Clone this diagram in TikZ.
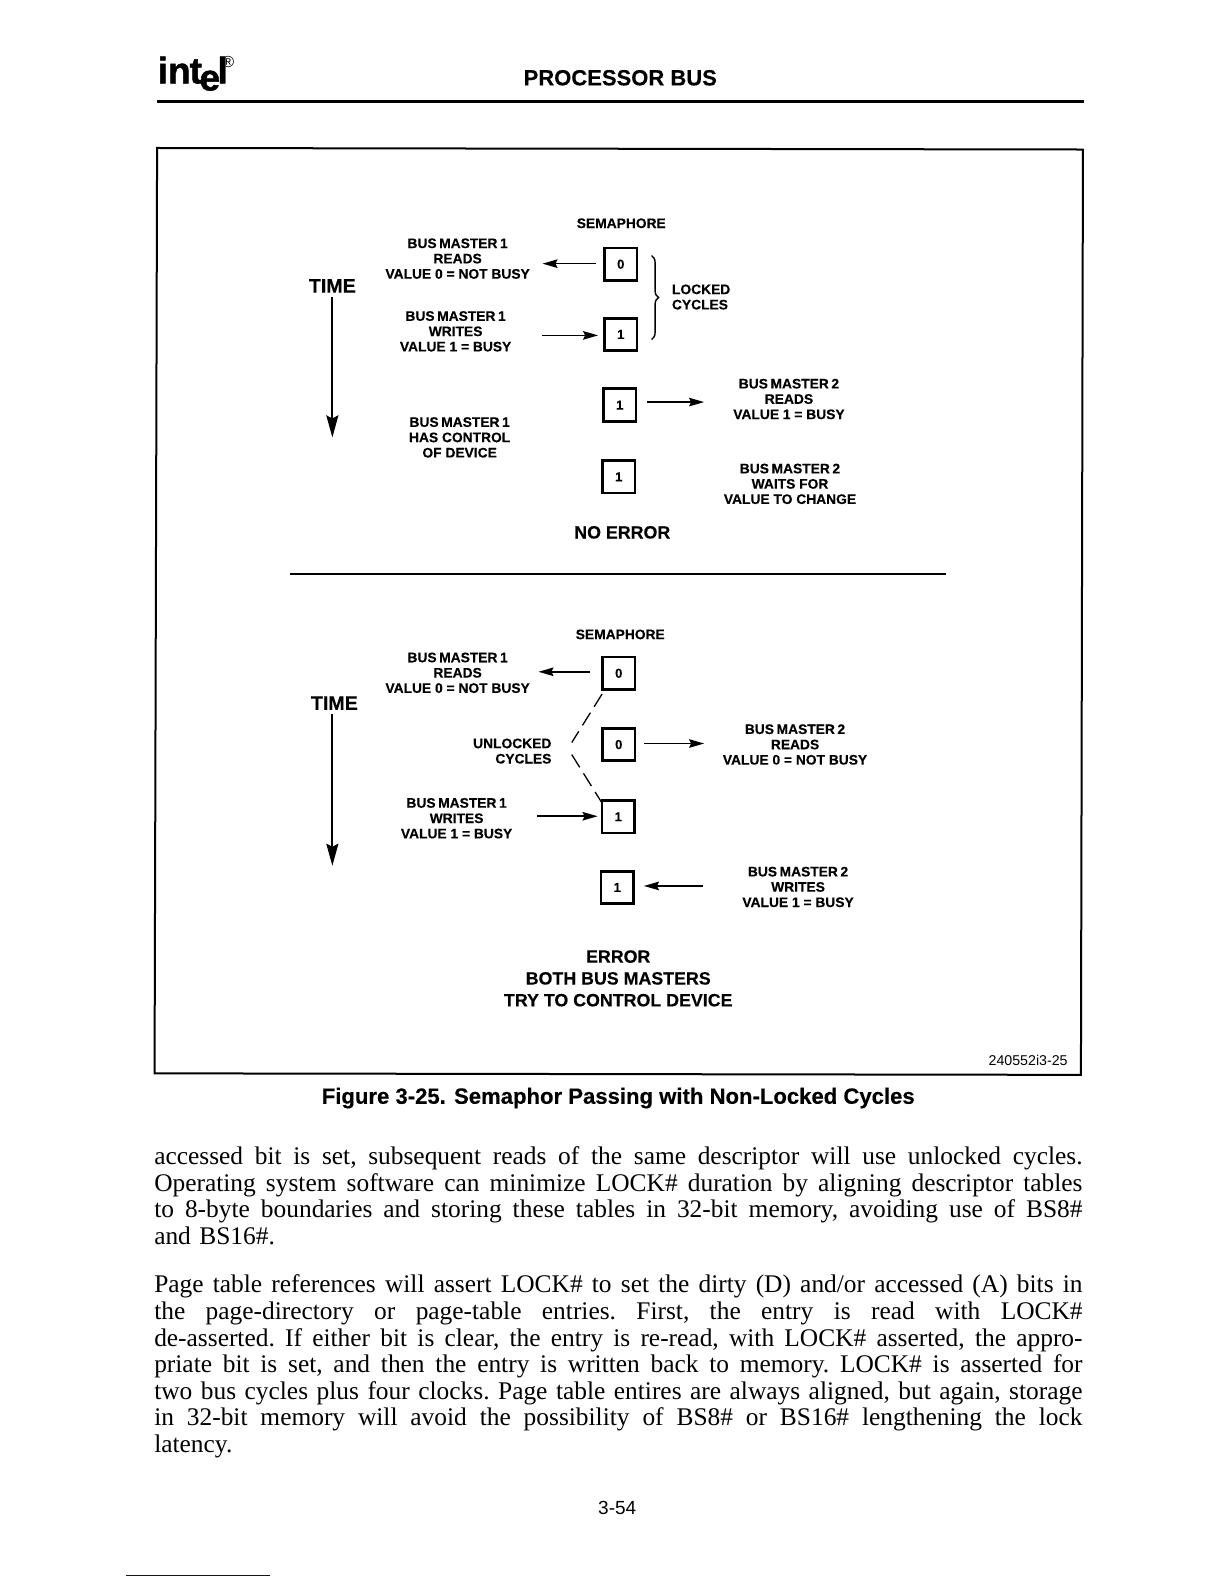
\documentclass[tikz,border=0pt]{standalone}
\usepackage{fontspec}
\setmainfont{Liberation Serif}
\newfontfamily\labelfont[BoldFeatures={FakeBold=0.25}]{Liberation Sans}
\newfontfamily\logofont[BoldFeatures={FakeBold=1.2}]{Liberation Sans}
\usetikzlibrary{arrows.meta,decorations.pathreplacing}
\newcommand{\fitline}[1]{\leavevmode\hbox to 928pt{\frenchspacing\spaceskip=0.25em plus 1em minus 0.1em\relax #1}}
\newcommand{\busmaster}[1]{BUS\hspace{2.6pt}MASTER\hspace{2.6pt}#1}
\tikzset{
  semabox/.style={draw, line width=2.8pt, minimum width=32.5pt, minimum height=32.5pt, inner sep=0pt,
    font=\labelfont\bfseries\fontsize{13}{13}\selectfont},
  buslabel/.style={align=center, inner sep=0pt, font=\labelfont\bfseries\fontsize{13.8}{15.3}\selectfont},
  biglabel/.style={align=center, inner sep=0pt, font=\labelfont\bfseries\fontsize{17.8}{21.8}\selectfont},
  timelabel/.style={biglabel, font=\labelfont\bfseries\fontsize{19.6}{20}\selectfont},
  busarrow/.style={-{Stealth[length=15pt,width=8.5pt,inset=2pt]}, line width=1.6pt},
  timearrow/.style={-{Stealth[length=22pt,width=12pt,inset=3pt]}, line width=2pt},
  bodytext/.style={align=left, anchor=north west, inner sep=0pt, text width=928pt,
    font=\fontsize{25.4}{26.55}\selectfont},
}
\begin{document}
\begin{tikzpicture}[x=1.0099pt,y=-1.0099pt]
  \useasboundingbox (0,0) rectangle (1212,1568);
  % header
  \node[inner sep=0pt, anchor=west, font=\logofont\bfseries\fontsize{37}{37}\selectfont] (logo) at (156,73)
    {in\hspace{-1pt}t\hspace{-2.5pt}\raisebox{-7pt}{e}\hspace{-2.5pt}l};
  \node[inner sep=0pt, font=\labelfont\fontsize{16}{16}\selectfont] (regmark) at (226,61) {®};
  \node[inner sep=0pt, font=\labelfont\bfseries\fontsize{22}{22}\selectfont] (title) at (614,77) {PROCESSOR BUS};
  \draw[line width=2.4pt] (155,100.5) -- (1073,100.5);
  % frame of the figure
  \draw[line width=2pt] (155.5,146.5) -- (1072,148) -- (1070,1064) -- (153,1062.5) -- cycle;
  % no error case
  \node[buslabel] (semtop) at (615,221) {SEMAPHORE};
  \node[semabox] (ta) at (614.5,261.5) {0};
  \node[semabox] (tb) at (614.5,331) {1};
  \node[semabox] (tc) at (613.5,401) {1};
  \node[semabox] (td) at (612.5,472) {1};
  \node[timelabel] (timetop) at (329,283) {TIME};
  \coordinate (timetopend) at (329,433);
  \draw[timearrow] (timetop.south) ++(0,4) -- (timetopend);
  \node[buslabel] (tmread) at (453,256) {\busmaster{1}\\READS\\VALUE 0 = NOT BUSY};
  \node[buslabel] (tmwrite) at (451,328) {\busmaster{1}\\WRITES\\VALUE 1 = BUSY};
  \node[buslabel] (tmctrl) at (455,433) {\busmaster{1}\\HAS CONTROL\\OF DEVICE};
  \node[buslabel] (tnread) at (781,395) {\busmaster{2}\\READS\\VALUE 1 = BUSY};
  \node[buslabel] (tnwait) at (782,479) {\busmaster{2}\\WAITS FOR\\VALUE TO CHANGE};
  \node[buslabel, anchor=west, align=left] (locked) at (665,294) {LOCKED\\CYCLES};
  \node[biglabel] (noerror) at (616,527) {NO ERROR};
  \coordinate (tagoal) at (537,261);
  \coordinate (tbstart) at (537,332);
  \coordinate (tcgoal) at (697,398);
  \draw[busarrow, shorten <=7pt] (ta.west |- tagoal) -- (tagoal);
  \draw[busarrow, shorten >=5pt] (tbstart) -- (tbstart -| tb.west);
  \draw[busarrow, shorten <=10pt] (tc.east |- tcgoal) -- (tcgoal);
  \coordinate (bracetop) at (645,253);
  \coordinate (bracebot) at (645,336);
  \draw[line width=1.4pt, decorate, decoration={brace,amplitude=7pt}] (bracetop) -- (bracebot);
  % divider
  \draw[line width=1.9pt] (287,568) -- (936,568);
  % error case
  \node[buslabel] (sembot) at (614,628) {SEMAPHORE};
  \node[semabox] (ba) at (612.5,666.5) {0};
  \node[semabox] (bb) at (612.5,737) {0};
  \node[semabox] (bc) at (612,808.5) {1};
  \node[semabox] (bd) at (611,878.5) {1};
  \node[timelabel] (timebot) at (331,696) {TIME};
  \coordinate (timebotend) at (329,857);
  \draw[timearrow] (timebot.south) ++(-2,4) -- (timebotend);
  \node[buslabel] (bmread) at (453,666) {\busmaster{1}\\READS\\VALUE 0 = NOT BUSY};
  \node[buslabel] (bmwrite) at (452,810) {\busmaster{1}\\WRITES\\VALUE 1 = BUSY};
  \node[buslabel] (bnread) at (787,737) {\busmaster{2}\\READS\\VALUE 0 = NOT BUSY};
  \node[buslabel] (bnwrite) at (790,878) {\busmaster{2}\\WRITES\\VALUE 1 = BUSY};
  \node[buslabel, anchor=east, align=right] (unlocked) at (546,743.5) {UNLOCKED\\CYCLES};
  \node[biglabel] (errortxt) at (612,968.5) {ERROR\\BOTH BUS MASTERS\\TRY TO CONTROL DEVICE};
  \coordinate (bagoal) at (533,665);
  \coordinate (bbgoal) at (697,736);
  \coordinate (bcstart) at (532,808);
  \coordinate (bdstart) at (696,877);
  \coordinate (dasha) at (596,687);
  \coordinate (dashb) at (566,735);
  \coordinate (dashc) at (566,747);
  \coordinate (dashd) at (596,795);
  \draw[busarrow, shorten <=11pt] (ba.west |- bagoal) -- (bagoal);
  \draw[busarrow, shorten <=8pt] (bb.east |- bbgoal) -- (bbgoal);
  \draw[busarrow, shorten >=3pt] (bcstart) -- (bcstart -| bc.west);
  \draw[busarrow, shorten >=9pt] (bdstart) -- (bdstart -| bd.east);
  \draw[line width=1.3pt, dash pattern=on 15pt off 7pt] (dasha) -- (dashb);
  \draw[line width=1.3pt, dash pattern=on 15pt off 7pt] (dashc) -- (dashd);
  % figure number and caption
  \node[inner sep=0pt, anchor=east, font=\labelfont\fontsize{14.2}{14.2}\selectfont] (fignum) at (1057,1050) {240552i3-25};
  \node[inner sep=0pt, font=\labelfont\bfseries\fontsize{22.1}{22.1}\selectfont] (caption) at (612,1087) {Figure 3-25. Semaphor Passing with Non-Locked Cycles};
  % body text
  \node[bodytext] (para1) at (152.5,1135) {%
    \fitline{accessed bit is set, subsequent reads of the same descriptor will use unlocked cycles.}\\
    \fitline{Operating system software can minimize LOCK\# duration by aligning descriptor tables}\\
    \fitline{to 8-byte boundaries and storing these tables in 32-bit memory, avoiding use of BS8\#}\\
    and BS16\#.};
  \node[bodytext] (para2) at (152.5,1262) {%
    \fitline{Page table references will assert LOCK\# to set the dirty (D) and/or accessed (A) bits in}\\
    \fitline{the page-directory or page-table entries. First, the entry is read with LOCK\#}\\
    \fitline{de-asserted. If either bit is clear, the entry is re-read, with LOCK\# asserted, the appro-}\\
    \fitline{priate bit is set, and then the entry is written back to memory. LOCK\# is asserted for}\\
    \fitline{two bus cycles plus four clocks. Page table entires are always aligned, but again, storage}\\
    \fitline{in 32-bit memory will avoid the possibility of BS8\# or BS16\# lengthening the lock}\\
    latency.};
  \node[inner sep=0pt, font=\labelfont\fontsize{19}{19}\selectfont] (pagenum) at (611,1493) {3-54};
  % rule at the foot of the page
  \draw[line width=1pt, blue!70!black] (125,1559.5) -- (267,1559.5);
\end{tikzpicture}
\end{document}
